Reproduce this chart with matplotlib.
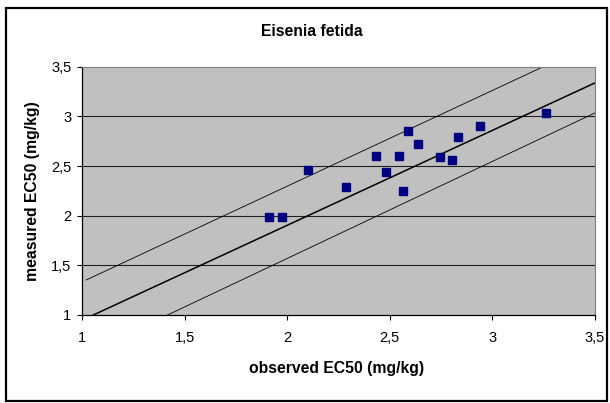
import matplotlib
matplotlib.use('Agg')
import matplotlib.pyplot as plt
from matplotlib.patches import Rectangle
from matplotlib.ticker import FuncFormatter

plt.rcParams['font.family'] = ['Liberation Sans', 'DejaVu Sans']

# observed vs measured EC50 (mg/kg)
obs_x = [1.91, 1.975, 2.10, 2.285, 2.435, 2.48, 2.545, 2.565, 2.59, 2.635,
         2.745, 2.805, 2.83, 2.94, 3.26]
meas_y = [1.99, 1.99, 2.46, 2.29, 2.60, 2.44, 2.60, 2.25, 2.85, 2.72,
          2.59, 2.56, 2.79, 2.90, 3.03]

# reference lines (end points)
mid_x = [1.055, 3.5]
mid_y = [1.0, 3.337]
upper_x = [1.02, 3.248]
upper_y = [1.352, 3.5]
lower_x = [1.417, 3.5]
lower_y = [1.0, 3.035]

ticks = [1, 1.5, 2, 2.5, 3, 3.5]

W, H = 610, 403
fig = plt.figure(figsize=(W / 100, H / 100), dpi=100)
ax = fig.add_axes([82 / W, 1 - 315 / H, (595 - 82) / W, (315 - 66.7) / H])
ax.set_facecolor('#C0C0C0')

for t in ticks[1:-1]:
    ax.axhline(t, color='#202020', lw=0.8, zorder=1)

ax.plot(upper_x, upper_y, color='black', lw=0.6, zorder=2)
ax.plot(lower_x, lower_y, color='black', lw=0.6, zorder=2)
ax.plot(mid_x, mid_y, color='black', lw=1.1, zorder=2)
ax.plot(obs_x, meas_y, linestyle='none', marker='s', markersize=6,
        color='#000080', markeredgecolor='#000080', zorder=3)

ax.set_xlim(1, 3.5)
ax.set_ylim(1, 3.5)
ax.set_xticks(ticks)
ax.set_yticks(ticks)
fmt = FuncFormatter(lambda v, p: ('%g' % v).replace('.', ','))
ax.xaxis.set_major_formatter(fmt)
ax.yaxis.set_major_formatter(fmt)
ax.tick_params(direction='out', length=3.6, width=0.8, labelsize=10.5)
ax.tick_params(axis='x', pad=8)
ax.tick_params(axis='y', pad=4)

ax.spines['left'].set_color('black')
ax.spines['bottom'].set_color('black')
ax.spines['left'].set_linewidth(0.9)
ax.spines['bottom'].set_linewidth(0.9)
ax.spines['top'].set_color('#808080')
ax.spines['right'].set_color('#808080')

ax.set_xlabel('observed EC50 (mg/kg)', fontsize=11.3, fontweight='bold')
ax.set_ylabel('measured EC50 (mg/kg)', fontsize=11.3, fontweight='bold')
ax.xaxis.set_label_coords((337 - 82) / 513, -(368 - 315) / 248.3)
ax.yaxis.set_label_coords(-(82 - 33) / 513, (315 - 191) / 248.3)
ax.xaxis.label.set_va('center')
ax.yaxis.label.set_va('center')

fig.text(312 / W, 1 - 31 / H, 'Eisenia fetida', fontsize=11.3, fontweight='bold',
         ha='center', va='center')

fig.patches.append(Rectangle((6 / W, 2.5 / H), (607 - 6) / W, (400.5 - 7.5) / H,
                             transform=fig.transFigure, fill=False,
                             edgecolor='black', lw=1.6))

fig.savefig('out.png', dpi=100)
